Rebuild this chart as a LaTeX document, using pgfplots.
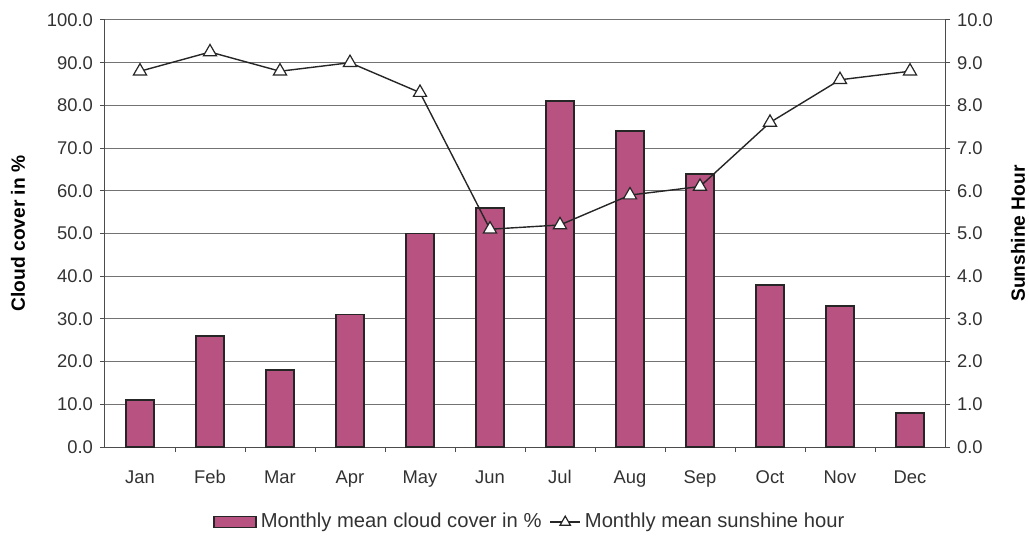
\documentclass[border=0pt]{standalone}
\usepackage{fontspec}
\setmainfont{Liberation Sans}
\usepackage{pgfplots}
\pgfplotsset{compat=1.18}
\definecolor{barc}{RGB}{184,82,128}
\definecolor{txt}{RGB}{50,50,50}
\begin{document}
\begin{tikzpicture}[font=\fontsize{9.2}{11}\selectfont]
\pgfplotsset{
  /pgf/number format/assume math mode=true,
  every axis/.append style={
    scale only axis, width=420pt, height=213.5pt,
    xmin=-0.5, xmax=11.5,
    tick align=outside, major tick length=2.5pt,
    tick style={black!70, line width=0.5pt},
    axis line style={black!70, line width=0.5pt},
    ticklabel style={text=txt, font=\fontsize{9.2}{11}\selectfont},
    yticklabel style={/pgf/number format/.cd, fixed, fixed zerofill, precision=1},
  }
}
\begin{axis}[
  name=main,
  ymin=0, ymax=100,
  axis x line*=bottom, axis y line*=left,
  ytick={0,10,...,100},
  ymajorgrids, grid style={black!55, line width=0.5pt},
  xtick={0,...,11},
  xticklabels={Jan,Feb,Mar,Apr,May,Jun,Jul,Aug,Sep,Oct,Nov,Dec},
  major x tick style={draw=none},
  minor xtick={0.5,1.5,...,10.5},
  minor tick length=2.5pt,
  minor x tick style={black!70, line width=0.5pt},
  xticklabel style={yshift=-4pt, text height=1.6ex, text depth=0.3ex},
  ybar, bar width=14pt,
  ylabel={\bfseries Cloud cover in \%},
  ylabel style={at={(axis description cs:-0.1036,0.5)}, anchor=center, text=black, font=\fontsize{9.6}{11}\selectfont},
]
\addplot[fill=barc, draw=black!85, line width=0.8pt, bar shift=0pt] coordinates {
(0,11) (1,26) (2,18) (3,31) (4,50) (5,56) (6,81) (7,74) (8,64) (9,38) (10,33) (11,8)};
\end{axis}
\begin{axis}[
  ymin=0, ymax=10,
  axis x line=none, axis y line*=right,
  ytick={0,1,...,10},
  ylabel={\bfseries Sunshine Hour},
  ylabel style={at={(axis description cs:1.087,0.5)}, anchor=center, text=black, font=\fontsize{9.6}{11}\selectfont},
  legend style={at={(0.507,-0.176)}, anchor=center, draw=none, fill=none,
    font=\fontsize{10.1}{12}\selectfont\color{txt}, legend columns=2,
    /tikz/every even column/.append style={column sep=2pt}},
  legend cell align=left,
]
\addlegendimage{legend image code/.code={\draw[fill=barc,draw=black!85,line width=0.7pt] (0pt,-2.8pt) rectangle (21pt,2.8pt);}}
\addlegendentry{Monthly mean cloud cover in \%}
\addplot[black!85, line width=0.7pt, mark=triangle*, mark size=3.8pt,
  mark options={fill=white, draw=black!85, line width=0.6pt},
  legend image code/.code={\draw[black!85, line width=0.7pt] (0pt,0pt) -- (15pt,0pt);
    \draw[fill=white, draw=black!85, line width=0.6pt] plot[mark=triangle*, mark size=3pt] coordinates {(7.5pt,0pt)};}]
coordinates {
(0,8.8) (1,9.25) (2,8.8) (3,9.0) (4,8.3) (5,5.1) (6,5.2) (7,5.9) (8,6.1) (9,7.6) (10,8.6) (11,8.8)};
\addlegendentry{Monthly mean sunshine hour}
\end{axis}
\pgfresetboundingbox
\path (main.south west) ++(-52.5pt,-44.5pt) rectangle ++(514.5pt,268pt);
\end{tikzpicture}
\end{document}
